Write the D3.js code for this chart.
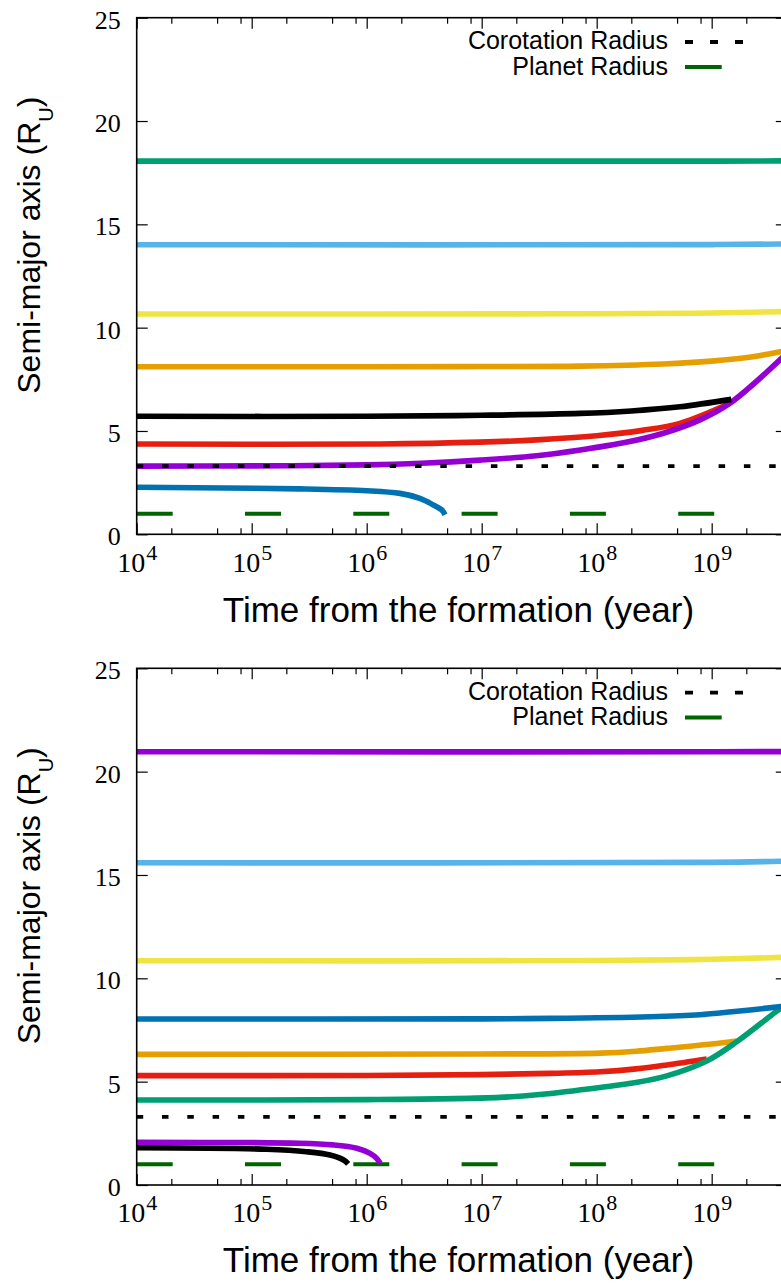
<!DOCTYPE html>
<html>
<head>
<meta charset="utf-8">
<script src="https://cdn.jsdelivr.net/npm/d3@7"></script>
<style>
  body { margin: 0; background: #fff; }
  svg { display: block; }
</style>
</head>
<body>
<div id="chart-area"></div>
<script>
// tick values
var xTicks = [1e4, 1e5, 1e6, 1e7, 1e8, 1e9];
var xTickExp = ["4", "5", "6", "7", "8", "9"];
var xMinorMult = [2, 5, 8];
var yTicks = [0, 5, 10, 15, 20, 25];

// reference levels (R_U)
var corotation = 3.30;
var planetRadius = 1.0;

// top panel, [time (yr), a (R_U)]
var topGreen = [[1e4, 18.06], [1e9, 18.06], [4.5e9, 18.07]];
var topSky = [[1e4, 14.01], [1e9, 14.02], [4.5e9, 14.05]];
var topYellow = [[1e4, 10.66], [1e8, 10.67], [1e9, 10.71], [4.5e9, 10.78]];
var topOrange = [[1e4, 8.11], [1e6, 8.11], [1e7, 8.12], [7.2e7, 8.14], [3.8e8, 8.24], [1e9, 8.38], [2.2e9, 8.58], [4.5e9, 8.9]];
var topBlack = [[1e4, 5.71], [1e6, 5.71], [1e7, 5.76], [7.2e7, 5.85], [2e8, 5.97], [5.3e8, 6.17], [1.48e9, 6.53]];
var topRed = [[1e4, 4.37], [1.3e6, 4.37], [9.7e6, 4.46], [3e7, 4.57], [1e8, 4.77], [2.5e8, 5.03], [5.3e8, 5.37], [1.44e9, 6.34]];
var topPurple = [[1e4, 3.30], [1e5, 3.31], [1e6, 3.36], [3e6, 3.44], [9.7e6, 3.59], [3e7, 3.8], [7.2e7, 4.08], [1.8e8, 4.45], [3.8e8, 4.89], [8e8, 5.55], [1.44e9, 6.34], [4.5e9, 8.75]];
var topBlue = [[1e4, 2.28], [2.6e5, 2.20], [1e6, 2.11], [1.95e6, 1.98], [2.9e6, 1.74], [3.8e6, 1.42], [4.5e6, 1.18], [4.8e6, 0.95]];

// bottom panel
var botPurple = [[1e4, 20.96], [1e9, 20.96], [4.5e9, 20.97]];
var botSky = [[1e4, 15.59], [1e9, 15.61], [4.5e9, 15.67]];
var botYellow = [[1e4, 10.85], [1e8, 10.86], [1e9, 10.92], [4.5e9, 11.02]];
var botBlue = [[1e4, 8.03], [1e7, 8.04], [4e7, 8.06], [2.9e8, 8.14], [7.9e8, 8.24], [1.5e9, 8.38], [4e9, 8.63], [4.5e9, 8.66]];
var botOrange = [[1e4, 6.32], [1e7, 6.34], [1.07e8, 6.38], [2.2e8, 6.47], [4.07e8, 6.61], [1e9, 6.82], [1.65e9, 6.97]];
var botRed = [[1e4, 5.29], [1e6, 5.30], [1e7, 5.34], [4e7, 5.40], [1.07e8, 5.48], [2.2e8, 5.62], [4.07e8, 5.81], [9.06e8, 6.10]];
var botGreen = [[1e4, 4.11], [1e6, 4.13], [1.45e7, 4.24], [3.2e7, 4.38], [1.07e8, 4.72], [2.2e8, 4.96], [4.07e8, 5.28], [9.06e8, 6.0], [1.65e9, 6.93], [4e9, 8.55], [4.5e9, 8.7]];
var botPurpleIn = [[1e4, 2.07], [2.6e5, 2.02], [5.1e5, 1.94], [8.2e5, 1.78], [1.07e6, 1.53], [1.22e6, 1.29], [1.31e6, 1.05]];
var botBlackIn = [[1e4, 1.80], [1.35e5, 1.73], [3e5, 1.61], [4.8e5, 1.45], [6.3e5, 1.21], [6.9e5, 1.02]];

var col = {
  purple: "#9400d3", green: "#009e73", sky: "#56b4e9", orange: "#e69f00",
  yellow: "#f0e442", blue: "#0072b2", red: "#e51e10", black: "#000000",
  planet: "#006400"
};

var panels = [
  { top: 17.7, bottom: 534.3,
    series: [[topBlue, col.blue], [topYellow, col.yellow], [topSky, col.sky], [topGreen, col.green],
             [topOrange, col.orange], [topRed, col.red], [topPurple, col.purple], [topBlack, col.black]] },
  { top: 668.3, bottom: 1185,
    series: [[botPurple, col.purple], [botSky, col.sky], [botYellow, col.yellow], [botRed, col.red],
             [botOrange, col.orange], [botGreen, col.green], [botBlue, col.blue],
             [botBlackIn, col.black], [botPurpleIn, col.purple]] }
];

var width = 781, height = 1284;
var left = 136.7, right = 786.8;

var svg = d3.select("#chart-area").append("svg")
    .attr("width", width)
    .attr("height", height);

var x = d3.scaleLog()
    .domain([1e4, 4.5e9])
    .range([left, right]);

var minorTicks = [];
xTicks.forEach(function(t) {
  xMinorMult.forEach(function(m) {
    if (t * m <= 4.5e9) minorTicks.push(t * m);
  });
});

panels.forEach(function(p, i) {
  var y = d3.scaleLinear().domain([0, 25]).range([p.bottom, p.top]);
  var g = svg.append("g");

  g.append("clipPath").attr("id", "clip" + i)
    .append("rect")
    .attr("x", left).attr("y", p.top)
    .attr("width", right - left).attr("height", p.bottom - p.top);

  var plot = g.append("g").attr("clip-path", "url(#clip" + i + ")");

  // planet radius
  plot.append("line")
    .attr("x1", x(1e4)).attr("x2", x(4.5e9))
    .attr("y1", y(planetRadius)).attr("y2", y(planetRadius))
    .attr("stroke", col.planet).attr("stroke-width", 4)
    .attr("stroke-dasharray", "36,72.3");

  var line = d3.line()
    .x(function(d) { return x(d[0]); })
    .y(function(d) { return y(d[1]); })
    .curve(d3.curveCatmullRom.alpha(0.5));

  p.series.forEach(function(s) {
    plot.append("path")
      .datum(s[0])
      .attr("d", line)
      .attr("fill", "none")
      .attr("stroke", s[1])
      .attr("stroke-width", 5.6);
  });

  // corotation
  plot.append("line")
    .attr("x1", x(1e4)).attr("x2", x(4.5e9))
    .attr("y1", y(corotation)).attr("y2", y(corotation))
    .attr("stroke", "#000").attr("stroke-width", 3.8)
    .attr("stroke-dasharray", "6.5,18.8");

  // axes (ticks pointing inward)
  var yAxisCall = d3.axisLeft(y).tickValues(yTicks).tickSizeInner(-11).tickSizeOuter(0).tickPadding(16);
  var yAx = g.append("g").attr("transform", "translate(" + left + ",0)").call(yAxisCall);
  yAx.select(".domain").remove();
  yAx.selectAll("text")
    .attr("font-family", "Liberation Serif, serif")
    .attr("font-size", 26)
    .attr("fill", "#000")
    .attr("dy", "0.4em");

  g.append("g").attr("transform", "translate(" + right + ",0)")
    .call(d3.axisRight(y).tickValues(yTicks).tickSizeInner(-11).tickSizeOuter(0).tickFormat(""))
    .select(".domain").remove();

  var xb = g.append("g").attr("transform", "translate(0," + p.bottom + ")")
    .call(d3.axisBottom(x).tickValues(xTicks).tickSizeInner(-11).tickSizeOuter(0).tickFormat(""));
  xb.select(".domain").remove();
  var xbm = g.append("g").attr("transform", "translate(0," + p.bottom + ")")
    .call(d3.axisBottom(x).tickValues(minorTicks).tickSizeInner(-6).tickSizeOuter(0).tickFormat(""));
  xbm.select(".domain").remove();
  var xt = g.append("g").attr("transform", "translate(0," + p.top + ")")
    .call(d3.axisTop(x).tickValues(xTicks).tickSizeInner(-11).tickSizeOuter(0).tickFormat(""));
  xt.select(".domain").remove();
  var xtm = g.append("g").attr("transform", "translate(0," + p.top + ")")
    .call(d3.axisTop(x).tickValues(minorTicks).tickSizeInner(-6).tickSizeOuter(0).tickFormat(""));
  xtm.select(".domain").remove();
  g.selectAll(".tick line").attr("stroke", "#000").attr("stroke-width", 1.2);

  // border
  g.append("rect")
    .attr("x", left).attr("y", p.top)
    .attr("width", right - left).attr("height", p.bottom - p.top)
    .attr("fill", "none").attr("stroke", "#000").attr("stroke-width", 1.6);

  // x tick labels 10^n
  var lab = g.selectAll(".xlab").data(xTicks).enter().append("text")
    .attr("class", "xlab")
    .attr("x", function(d) { return x(d) - 19.5; })
    .attr("y", p.bottom + 37.4)
    .attr("font-family", "Liberation Serif, serif")
    .attr("font-size", 28)
    .attr("text-anchor", "start");
  lab.append("tspan").text("10");
  lab.append("tspan")
    .attr("font-size", 22)
    .attr("dx", 1)
    .attr("dy", -12)
    .text(function(d, j) { return xTickExp[j]; });

  // axis titles
  g.append("text")
    .attr("x", 458.5).attr("y", p.bottom + 87.4)
    .attr("text-anchor", "middle")
    .attr("font-family", "Liberation Sans, Arial, sans-serif")
    .attr("font-size", 35)
    .text("Time from the formation (year)");

  var yt = g.append("text")
    .attr("transform", "translate(40," + (p.top + 227.5) + ") rotate(-90)")
    .attr("text-anchor", "middle")
    .attr("font-family", "Liberation Sans, Arial, sans-serif")
    .attr("font-size", 32);
  yt.append("tspan").text("Semi-major axis (R");
  yt.append("tspan").attr("font-size", 20).attr("dy", 13).text("U");
  yt.append("tspan").attr("dy", -13).text(")");

  // legend
  var leg = g.append("g").attr("font-family", "Liberation Sans, Arial, sans-serif").attr("font-size", 25);
  leg.append("text").attr("x", 668).attr("y", p.top + 31.6).attr("text-anchor", "end").text("Corotation Radius");
  leg.append("line")
    .attr("x1", 685).attr("x2", 743).attr("y1", p.top + 24.3).attr("y2", p.top + 24.3)
    .attr("stroke", "#000").attr("stroke-width", 3.8).attr("stroke-dasharray", "8,17");
  leg.append("text").attr("x", 668).attr("y", p.top + 56.8).attr("text-anchor", "end").text("Planet Radius");
  leg.append("line")
    .attr("x1", 685).attr("x2", 721.7).attr("y1", p.top + 49.3).attr("y2", p.top + 49.3)
    .attr("stroke", col.planet).attr("stroke-width", 4);
});
</script>
</body>
</html>
